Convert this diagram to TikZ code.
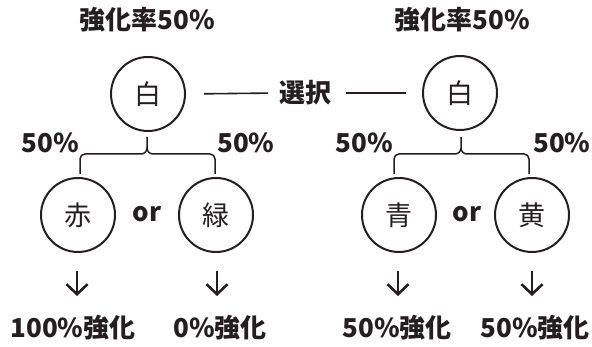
\documentclass[tikz,border=0pt]{standalone}
\usepackage{fontspec}
\setmainfont{Noto Sans CJK JP}
\newfontfamily\jp{Noto Sans CJK JP}
\usetikzlibrary{arrows.meta}
\definecolor{ink}{RGB}{35,31,32}
\tikzset{
  lbl/.style={font=\jp\bfseries\fontsize{26}{30}\selectfont, text=ink, inner sep=0pt},
  circ/.style={circle, draw=ink, line width=2pt, minimum size=74pt, inner sep=0pt,
     font=\jp\fontsize{27}{30}\selectfont, text=ink},
  link/.style={draw=ink, line width=1.6pt},
  brk/.style={draw=ink, line width=1.5pt, rounded corners=5pt},
  downarrow/.style={draw=ink, line width=2.6pt, -{Straight Barb[length=10pt,width=21pt,line width=2.6pt]}}
}
\begin{document}
\begin{tikzpicture}[x=1pt,y=-1pt]
\useasboundingbox (0,0) rectangle (592,347);
% titles
\node[lbl, anchor=base] (tL) at (147,30) {強化率50\%};
\node[lbl, anchor=base] (tR) at (462,30) {強化率50\%};
% top circles
\node[circ] (wL) at (148,94) {白};
\node[circ] (wR) at (460,93) {白};
\node[lbl] (sel) at (305,93) {選択};
\draw[link, shorten <=18pt, shorten >=11pt] (wL.east) -- (sel.west);
\draw[link, shorten <=15pt, shorten >=16pt] (sel.east) -- (wR.west);
% bottom circles
\node[circ] (rL) at (78,215) {赤};
\node[circ] (gL) at (216,215) {緑};
\node[circ] (bR) at (399,215) {青};
\node[circ] (yR) at (532,215) {黄};
\node[lbl, anchor=base] (or1) at (147,222) {or};
\node[lbl, anchor=base] (or2) at (467,222) {or};
% percentage labels
\node[lbl, anchor=base east] (pL1) at (79,153) {50\%};
\node[lbl, anchor=base west] (pL2) at (217,153) {50\%};
\node[lbl, anchor=base east] (pR1) at (393,153) {50\%};
\node[lbl, anchor=base west] (pR2) at (533,153) {50\%};
% brackets
\coordinate (kL) at (147,137);
\coordinate (kR) at (461,137);
\draw[brk] (80,174) -- (80,154) -- (141,154);
\draw[draw=ink, line width=1.5pt] (141,154) to[out=0,in=-90] (147,148) -- (kL);
\draw[draw=ink, line width=1.5pt] (147,148) to[out=-90,in=180] (153,154);
\draw[brk] (153,154) -- (215,154) -- (215,174);
\draw[brk] (394,174) -- (394,154) -- (455,154);
\draw[draw=ink, line width=1.5pt] (455,154) to[out=0,in=-90] (461,148) -- (kR);
\draw[draw=ink, line width=1.5pt] (461,148) to[out=-90,in=180] (467,154);
\draw[brk] (467,154) -- (529,154) -- (529,174);
% arrows
\coordinate (a1s) at (77,271); \coordinate (a1e) at (77,296);
\coordinate (a2s) at (217,271); \coordinate (a2e) at (217,296);
\coordinate (a3s) at (398,271); \coordinate (a3e) at (398,296);
\coordinate (a4s) at (532,271); \coordinate (a4e) at (532,296);
\draw[downarrow] (a1s) -- (a1e);
\draw[downarrow] (a2s) -- (a2e);
\draw[downarrow] (a3s) -- (a3e);
\draw[downarrow] (a4s) -- (a4e);
% results
\node[lbl, anchor=base] (res1) at (73,338) {100\%強化};
\node[lbl, anchor=base] (res2) at (220,338) {0\%強化};
\node[lbl, anchor=base] (res3) at (397,338) {50\%強化};
\node[lbl, anchor=base] (res4) at (535,338) {50\%強化};
\end{tikzpicture}
\end{document}
